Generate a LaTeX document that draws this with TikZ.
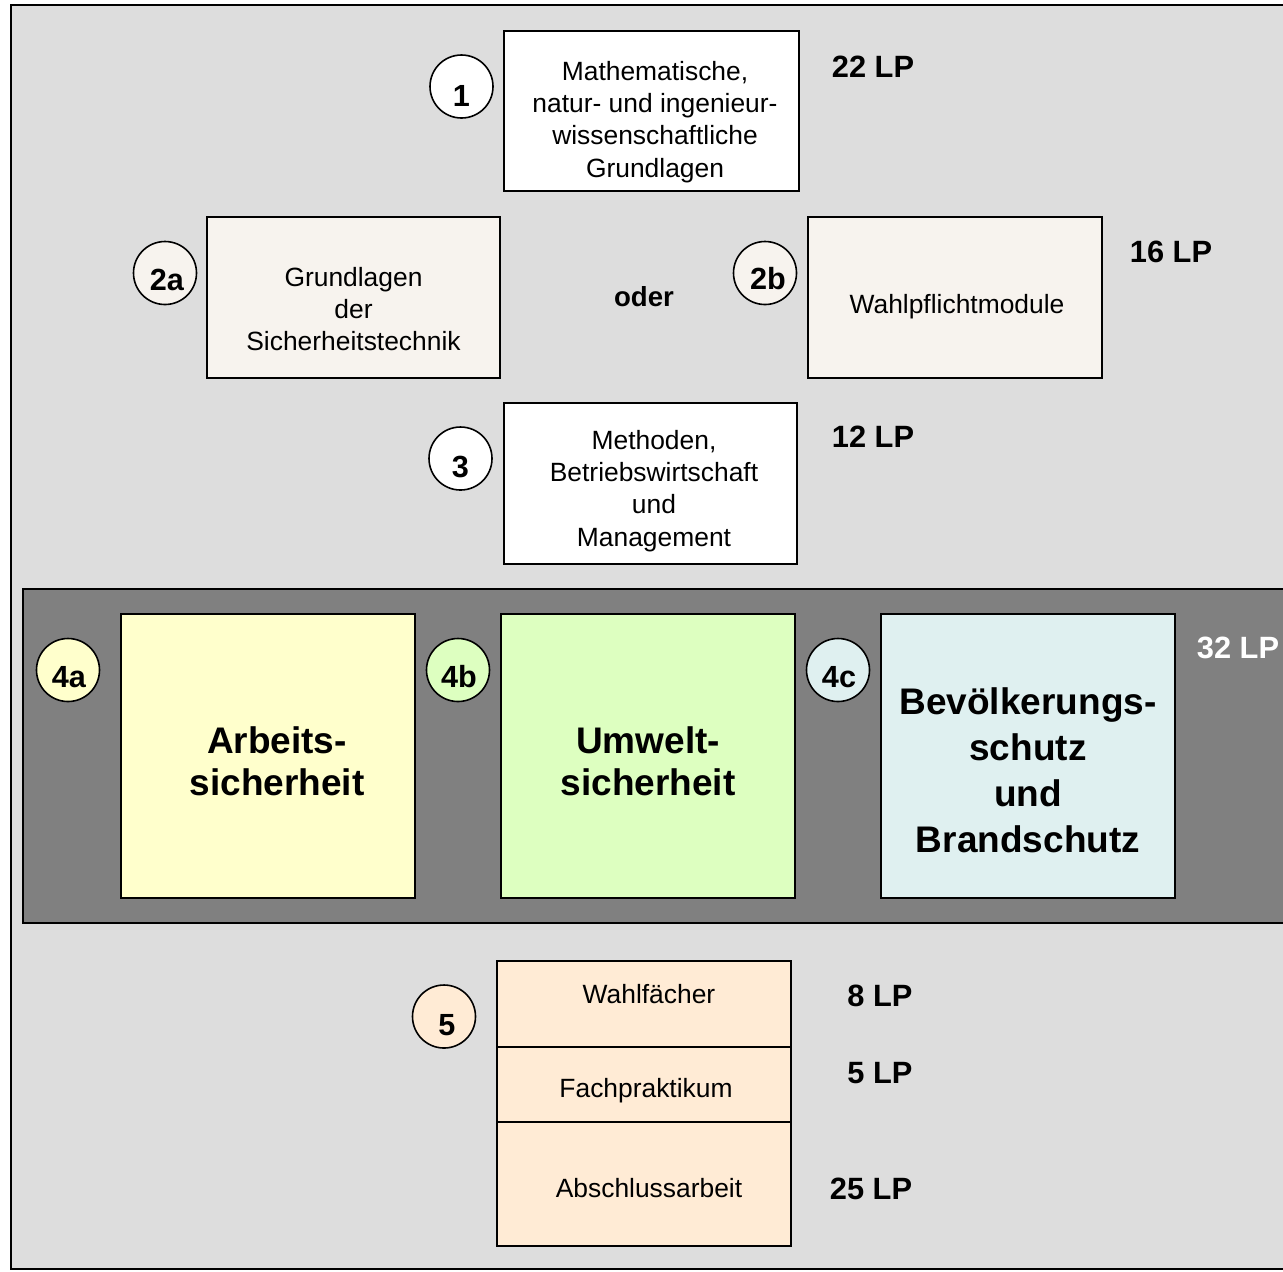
\documentclass[tikz,border=0pt]{standalone}
\usepackage{fontspec}
\setmainfont{Liberation Sans}
\definecolor{bggray}{HTML}{DDDDDD}
\definecolor{band}{HTML}{808080}
\definecolor{beige}{HTML}{F7F3EE}
\definecolor{yel}{HTML}{FFFFCC}
\definecolor{grn}{HTML}{DDFFC0}
\definecolor{blu}{HTML}{DFF0F0}
\definecolor{peach}{HTML}{FFEBD5}
\begin{document}
\begin{tikzpicture}[x=0.5pt,y=-0.5pt,
  box/.style={draw=black,line width=1pt,rectangle,inner sep=0pt,outer sep=0pt},
  circ/.style={draw=black,line width=0.8pt,circle,minimum size=31.5pt,inner sep=0pt},
  num/.style={font=\bfseries\fontsize{15.3}{18}\selectfont,inner sep=0pt},
  txt/.style={font=\fontsize{13.2}{16.1}\selectfont,align=center,inner sep=0pt},
  big/.style={font=\bfseries\fontsize{18.5}{21}\selectfont,align=center,inner sep=0pt},
  lp/.style={font=\bfseries\fontsize{15.4}{18}\selectfont,inner sep=0pt}]
\useasboundingbox (0,0) rectangle (1283,1271);
\fill[white] (0,0) rectangle (1283,1271);
\fill[bggray] (11,5) rectangle (1283,1269);
\draw[line width=1pt] (1283,5) -- (11,5) -- (11,1269) -- (1283,1269);
% dark band
\fill[band] (23,589) rectangle (1283,923);
\draw[line width=1pt] (1283,589) -- (23,589) -- (23,923) -- (1283,923);

% row 1
\node[box,fill=white,minimum width=147.5pt,minimum height=80pt] (b1) at (651.5,111) {};
\node[txt] (t1) at (655,122) {Mathematische,\\natur- und ingenieur-\\wissenschaftliche\\Grundlagen};
\node[circ,fill=white] (c1) at (461.5,86.5) {};
\node[num] (n1) at ([yshift=-4.5pt]c1.center) {1};
\node[lp] (lp1) at (873,67) {22 LP};

% row 2
\node[box,fill=beige,minimum width=146.5pt,minimum height=80.5pt] (b2a) at (353.5,297.5) {};
\node[txt] (t2a) at (353.5,309) {Grundlagen\\der\\Sicherheitstechnik};
\node[circ,fill=beige] (c2a) at (165,273) {};
\node[num] (n2a) at ([yshift=-3.5pt,xshift=1pt]c2a.center) {2a};
\node[font=\bfseries\fontsize{13.8}{16}\selectfont,inner sep=0pt] (oder) at (644,297) {oder};
\node[box,fill=beige,minimum width=147pt,minimum height=80.5pt] (b2b) at (955,297.5) {};
\node[txt] (t2b) at (957,307) {Wahlpflichtmodule};
\node[circ,fill=beige] (c2b) at (765,273) {};
\node[num] (n2b) at ([yshift=-3pt,xshift=1.5pt]c2b.center) {2b};
\node[lp] (lp2) at (1171,252) {16 LP};

% row 3
\node[box,fill=white,minimum width=146.5pt,minimum height=80.5pt] (b3) at (650.5,483.5) {};
\node[txt] (t3) at (654,491) {Methoden,\\Betriebswirtschaft\\und\\Management};
\node[circ,fill=white] (c3) at (460.5,458.5) {};
\node[num] (n3) at ([yshift=-4pt]c3.center) {3};
\node[lp] (lp3) at (873,437) {12 LP};

% row 4
\node[box,fill=yel,minimum width=147pt,minimum height=142pt] (b4a) at (268,756) {};
\node[big] (t4a) at (277,761) {Arbeits-\\sicherheit};
\node[circ,fill=yel] (c4a) at (68,670) {};
\node[num] (n4a) at ([yshift=-3.5pt,xshift=0.5pt]c4a.center) {4a};
\node[box,fill=grn,minimum width=147pt,minimum height=142pt] (b4b) at (648,756) {};
\node[big] (t4b) at (648,761) {Umwelt-\\sicherheit};
\node[circ,fill=grn] (c4b) at (458,670) {};
\node[num] (n4b) at ([yshift=-3.5pt,xshift=0.5pt]c4b.center) {4b};
\node[box,fill=blu,minimum width=147pt,minimum height=142pt] (b4c) at (1028,756) {};
\node[big,font=\bfseries\fontsize{18.5}{23}\selectfont] (t4c) at (1028,770) {Bevölkerungs-\\schutz\\und\\Brandschutz};
\node[circ,fill=blu] (c4c) at (838,670) {};
\node[num] (n4c) at ([yshift=-3.5pt,xshift=0.5pt]c4c.center) {4c};
\node[lp,text=white] (lp4) at (1238,648) {32 LP};

% row 5
\node[box,fill=peach,minimum width=147pt,minimum height=43pt] (b5a) at (644,1004) {};
\node[box,fill=peach,minimum width=147pt,minimum height=37.5pt] (b5b) at (644,1084.5) {};
\node[box,fill=peach,minimum width=147pt,minimum height=62pt] (b5c) at (644,1184) {};
\node[txt] (t5a) at (649,994) {Wahlfächer};
\node[txt] (t5b) at (646,1091) {Fachpraktikum};
\node[txt] (t5c) at (649,1188) {Abschlussarbeit};
\node[circ,fill=peach] (c5) at (444,1016.5) {};
\node[num] (n5) at ([yshift=-4.5pt,xshift=1.5pt]c5.center) {5};
\node[lp] (lp5a) at (880,996) {8 LP};
\node[lp] (lp5b) at (880,1073) {5 LP};
\node[lp] (lp5c) at (871,1189) {25 LP};
\end{tikzpicture}
\end{document}
